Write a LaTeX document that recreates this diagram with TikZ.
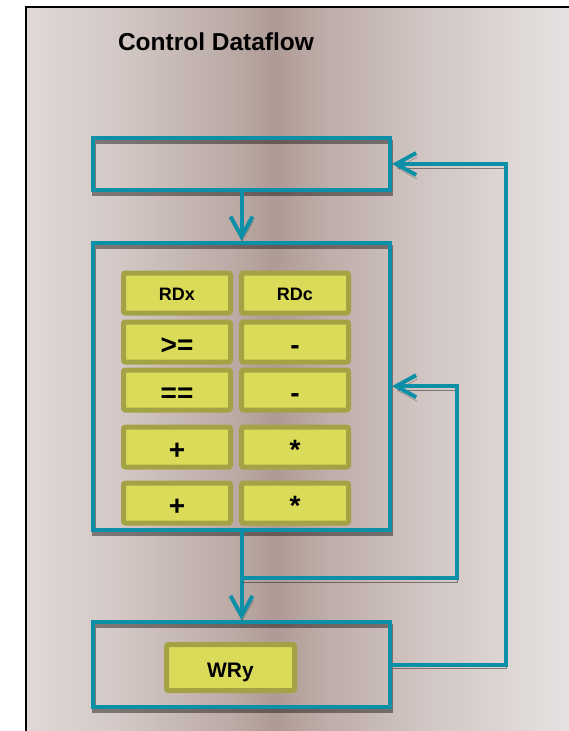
\documentclass[tikz,border=0pt]{standalone}
\usepackage{fontspec}
\setmainfont{Liberation Sans}
\usetikzlibrary{arrows.meta,positioning}
\definecolor{flowteal}{HTML}{0E8FA8}
\definecolor{cellfill}{HTML}{DBDB5A}
\definecolor{cellline}{HTML}{A3A345}
\definecolor{bgA}{HTML}{E0D9D7}
\definecolor{bgB}{HTML}{D3C8C5}
\definecolor{bgC}{HTML}{BCABA6}
\definecolor{bgD}{HTML}{AF9B95}
\definecolor{bgE}{HTML}{BFAEAA}
\definecolor{bgF}{HTML}{D0C5C2}
\definecolor{bgG}{HTML}{E6E2E1}
\pgfdeclarehorizontalshading{panel}{100bp}{color(0bp)=(bgA); color(25bp)=(bgA);
  color(33.3bp)=(bgB); color(42.8bp)=(bgC); color(46.7bp)=(bgD); color(51.5bp)=(bgE);
  color(59.3bp)=(bgF); color(72.2bp)=(bgG); color(100bp)=(bgG)}

\begin{document}
\begin{tikzpicture}[x=1pt, y=-1pt, >={Straight Barb[length=20pt,width=22pt]},
    shadowed/.style={preaction={draw=black, opacity=.42, transform canvas={xshift=1pt, yshift=-4pt}}},
    stage/.style={draw=flowteal, line width=4pt, minimum width=297pt, inner sep=0pt, shadowed},
    cell/.style={draw=cellline, fill=cellfill, line width=5pt, rounded corners=2pt,
      minimum width=107pt, minimum height=40pt, inner sep=0pt, text height=15pt, text depth=0pt,
      font=\bfseries\fontsize{18}{20}\selectfont},
    opcell/.style={cell, text height=24pt, font=\bfseries\fontsize{28}{30}\selectfont},
    flow/.style={draw=flowteal, line width=4pt, shadowed}]
  \useasboundingbox (0,0) rectangle (568,731);
  % panel
  \shade[shading=panel] (25.5,7) rectangle (600,760);
  \draw[line width=2pt] (25.5,7) rectangle (600,760);
  \node[anchor=base, font=\bfseries\fontsize{24.5}{28}\selectfont] (title) at (216,50) {Control Dataflow};

  % stages
  \node[stage, minimum height=52pt] (ctl) at (241.5,164) {};
  \node[stage, minimum height=287pt] (ops) at (241.5,386.2) {};
  \node[stage, minimum height=85pt] (wr) at (241.5,664.5) {};

  % operators
  \node[cell] (rdx) at (177,293) {RDx};
  \node[cell, right=6pt of rdx] (rdc) {RDc};
  \node[opcell, below=4pt of rdx] (ge) {>=};
  \node[opcell, right=6pt of ge] (sub1) {-};
  \node[opcell, below=3pt of ge] (eq) {==};
  \node[opcell, right=6pt of eq] (sub2) {-};
  \node[opcell, below=12pt of eq] (add1) {+};
  \node[opcell, right=6pt of add1] (mul1) {*};
  \node[opcell, below=11pt of add1] (add2) {+};
  \node[opcell, right=6pt of add2] (mul2) {*};
  \node[cell, minimum width=128pt, minimum height=46pt, text height=19pt,
        font=\bfseries\fontsize{21}{24}\selectfont] (wry) at (230.5,667.5) {WRy};

  % flow
  \coordinate (tap) at (241.5,578);
  \draw[flow,->] (ctl) -- (ops);
  \draw[flow,->] (ops) -- (wr);
  \draw[flow,->] (tap) -- ++(215,0) |- (ops.east);
  \draw[flow,->] (wr.east) -- ++(113.5,0) |- (ctl.east);
\end{tikzpicture}
\end{document}
